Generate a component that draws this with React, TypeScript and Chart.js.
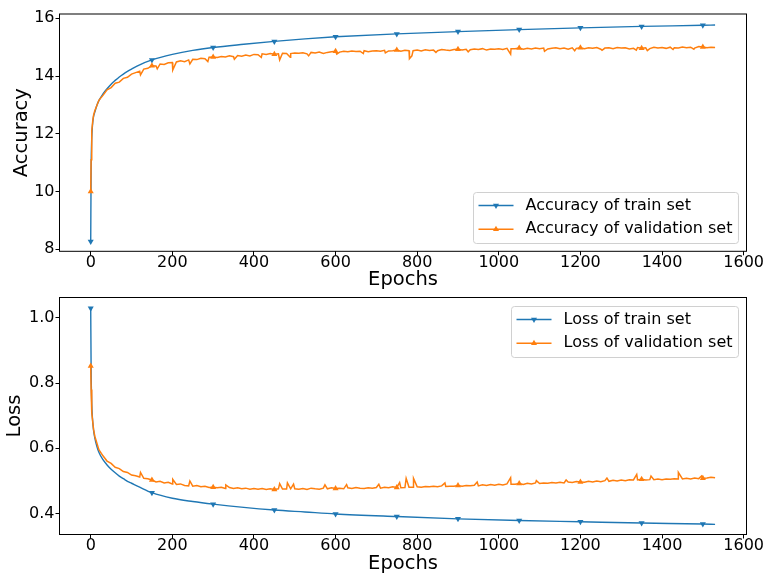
import React, { useEffect, useRef } from "react";
import { Chart, registerables } from "chart.js";

Chart.register(...registerables);
Chart.defaults.font.family = "'DejaVu Sans', sans-serif";
Chart.defaults.color = "#000";

const BLUE = "#1f77b4";
const ORANGE = "#ff7f0e";

// x grid / ticks
const epochTicks = [0, 200, 400, 600, 800, 1000, 1200, 1400, 1600];
const accuracyTicks = [8, 10, 12, 14, 16];
const lossTicks = [0.4, 0.6, 0.8, 1.0];

// train set (smooth curves)
const trainEpochs = [0, 1, 2, 3, 5, 7, 10, 15, 20, 30, 40, 50, 60, 70, 80, 90, 100, 120, 150, 200, 250, 300, 375, 450, 525, 600, 750, 900, 1050, 1200, 1350, 1500, 1530];
const trainAccuracy = [8.27, 10.8, 11.6, 12.0, 12.4, 12.6, 12.75, 12.98, 13.15, 13.38, 13.56, 13.72, 13.85, 13.97, 14.07, 14.16, 14.24, 14.39, 14.56, 14.75, 14.89, 14.99, 15.1, 15.2, 15.29, 15.36, 15.46, 15.54, 15.61, 15.67, 15.72, 15.76, 15.77];
const trainLoss = [1.029, 0.84, 0.76, 0.72, 0.68, 0.655, 0.632, 0.606, 0.588, 0.565, 0.549, 0.536, 0.525, 0.515, 0.507, 0.499, 0.493, 0.481, 0.464, 0.447, 0.437, 0.429, 0.419, 0.411, 0.405, 0.399, 0.391, 0.384, 0.379, 0.375, 0.371, 0.368, 0.367];

// validation set, read on a 10-epoch grid
const valEpochs = [0, 1, 2, 3, 5, 7, ...Array.from({ length: 153 }, (_, i) => 10 + i * 10)];
const valAccuracy = [
  10.0, 11.1, 11.75, 12.1, 12.45, 12.65,
  12.80, 13.16, 13.33, 13.52, 13.60, 13.75, 13.79, 13.92, 13.96, 14.07,
  14.12, 14.17, 14.24, 14.27, 14.36, 14.35, 14.42, 14.40, 14.46, 14.47,
  14.49, 14.53, 14.50, 14.56, 14.58, 14.57, 14.62, 14.60, 14.65, 14.66,
  14.64, 14.68, 14.66, 14.70, 14.67, 14.71, 14.69, 14.73, 14.70, 14.75,
  14.74, 14.77, 14.75, 14.78, 14.76, 14.77, 14.79, 14.78, 14.78, 14.80,
  14.79, 14.81, 14.77, 14.82, 14.80, 14.83, 14.78, 14.82, 14.84, 14.86,
  14.83, 14.86, 14.84, 14.87, 14.85, 14.86, 14.88, 14.84, 14.87, 14.88,
  14.86, 14.89, 14.87, 14.88, 14.90, 14.86, 14.89, 14.88, 14.88, 14.90,
  14.87, 14.91, 14.89, 14.90, 14.88, 14.92, 14.90, 14.89, 14.92, 14.93,
  14.90, 14.93, 14.91, 14.94, 14.92, 14.95, 14.90, 14.94, 14.93, 14.95,
  14.92, 14.96, 14.95, 14.95, 14.97, 14.93, 14.96, 14.94, 14.97, 14.95,
  14.97, 14.94, 14.96, 14.98, 14.95, 14.97, 14.93, 14.98, 14.96, 14.98,
  14.95, 14.98, 14.96, 14.99, 14.93, 14.97, 14.98, 14.95, 14.99, 14.97,
  14.98, 14.94, 14.96, 14.99, 14.96, 14.98, 14.95, 15.00, 14.97, 14.99,
  14.96, 15.00, 14.98, 14.97, 15.01, 14.98, 15.00, 14.97, 15.02, 15.01,
  14.98, 15.00, 14.99,
];
const valLoss = [
  0.852, 0.78, 0.735, 0.71, 0.68, 0.658,
  0.637, 0.596, 0.577, 0.561, 0.554, 0.542, 0.538, 0.529, 0.526, 0.518,
  0.516, 0.512, 0.508, 0.507, 0.503, 0.497, 0.499, 0.494, 0.496, 0.491,
  0.489, 0.491, 0.486, 0.485, 0.484, 0.486, 0.482, 0.484, 0.480, 0.481,
  0.479, 0.481, 0.477, 0.480, 0.477, 0.479, 0.476, 0.478, 0.475, 0.477,
  0.475, 0.477, 0.474, 0.476, 0.474, 0.476, 0.475, 0.475, 0.476, 0.476,
  0.475, 0.477, 0.474, 0.478, 0.476, 0.475, 0.478, 0.476, 0.479, 0.477,
  0.478, 0.476, 0.479, 0.477, 0.480, 0.478, 0.477, 0.479, 0.478, 0.480,
  0.478, 0.481, 0.479, 0.482, 0.480, 0.479, 0.480, 0.481, 0.481, 0.482,
  0.481, 0.483, 0.482, 0.484, 0.482, 0.485, 0.483, 0.484, 0.484, 0.486,
  0.484, 0.486, 0.485, 0.487, 0.485, 0.488, 0.486, 0.489, 0.487, 0.490,
  0.488, 0.491, 0.490, 0.490, 0.492, 0.489, 0.493, 0.491, 0.494, 0.492,
  0.494, 0.493, 0.495, 0.494, 0.496, 0.494, 0.497, 0.495, 0.498, 0.497,
  0.496, 0.499, 0.497, 0.500, 0.498, 0.501, 0.499, 0.502, 0.500, 0.503,
  0.501, 0.504, 0.503, 0.503, 0.505, 0.503, 0.504, 0.504, 0.506, 0.504,
  0.506, 0.505, 0.507, 0.506, 0.506, 0.508, 0.506, 0.509, 0.507, 0.508,
  0.509, 0.511, 0.510,
];

// single-epoch spikes of the validation curves: [epoch, value]
const valAccuracySpikes: [number, number][] = [
  [122, 14.04], [163, 14.25], [201, 14.21], [243, 14.42], [287, 14.5], [352, 14.58],
  [418, 14.65], [463, 14.56], [489, 14.65], [534, 14.7], [603, 14.76], [668, 14.78],
  [722, 14.8], [781, 14.6], [787, 14.7], [846, 14.82], [925, 14.84], [1029, 14.76],
  [1112, 14.86], [1186, 14.88], [1253, 14.89], [1337, 14.9], [1364, 14.88], [1427, 14.92], [1478, 14.93],
];
const valLossSpikes: [number, number][] = [
  [122, 0.526], [201, 0.505], [243, 0.5], [331, 0.488], [463, 0.492], [482, 0.494],
  [497, 0.49], [574, 0.488], [627, 0.489], [706, 0.49], [757, 0.495], [773, 0.508],
  [791, 0.508], [868, 0.494], [947, 0.497], [1029, 0.51], [1092, 0.501], [1165, 0.503],
  [1265, 0.509], [1338, 0.52], [1373, 0.515], [1440, 0.526], [1497, 0.515],
];

const MARK_EVERY = 150;

function toPoints(xs: number[], ys: number[], spikes: [number, number][] = []) {
  const pts = xs.map((x, i) => ({ x, y: ys[i] }));
  spikes.forEach(([x, y]) => pts.push({ x, y }));
  return pts.sort((a, b) => a.x - b.x);
}

function drawTriangle(ctx: CanvasRenderingContext2D, x: number, y: number, r: number, down: boolean) {
  const s = down ? -1 : 1;
  ctx.beginPath();
  ctx.moveTo(x, y - s * r);
  ctx.lineTo(x + 0.866 * r, y + s * 0.5 * r);
  ctx.lineTo(x - 0.866 * r, y + s * 0.5 * r);
  ctx.closePath();
  ctx.fill();
}

function framePlugin() {
  return {
    id: "frame",
    afterDatasetsDraw(chart: any) {
      const { ctx, chartArea } = chart;
      ctx.save();
      ctx.strokeStyle = "#000";
      ctx.lineWidth = 1;
      ctx.strokeRect(chartArea.left, chartArea.top, chartArea.right - chartArea.left, chartArea.bottom - chartArea.top);
      ctx.restore();
    },
  };
}

function legendPlugin(items: { label: string; color: string; down: boolean }[], place: "upper" | "lower") {
  return {
    id: "boxLegend",
    afterDraw(chart: any) {
      const { ctx, chartArea } = chart;
      ctx.save();
      ctx.font = "16px 'DejaVu Sans'";
      const tw = Math.max(...items.map((it) => ctx.measureText(it.label).width));
      const w = tw + 58;
      const h = 51;
      const x = Math.round(chartArea.right - 8.5 - w) + 0.5;
      const y = Math.round(place === "lower" ? chartArea.bottom - 8.5 - h : chartArea.top + 8.5) + 0.5;
      ctx.beginPath();
      ctx.roundRect(x, y, w, h, 3);
      ctx.fillStyle = "rgba(255,255,255,0.8)";
      ctx.fill();
      ctx.strokeStyle = "#d0d0d0";
      ctx.lineWidth = 1;
      ctx.stroke();
      items.forEach((it, i) => {
        const cy = y + 13 + i * 23.8;
        ctx.strokeStyle = it.color;
        ctx.lineWidth = 1.5;
        ctx.beginPath();
        ctx.moveTo(x + 5, cy);
        ctx.lineTo(x + 40, cy);
        ctx.stroke();
        ctx.fillStyle = it.color;
        drawTriangle(ctx, x + 22.5, cy, 3.5, it.down);
        ctx.fillStyle = "#000";
        ctx.textAlign = "left";
        ctx.textBaseline = "middle";
        ctx.fillText(it.label, x + 52, cy);
      });
      ctx.restore();
    },
  };
}

type PanelSpec = {
  train: number[];
  val: number[];
  valSpikes: [number, number][];
  yMin: number;
  yMax: number;
  yTicks: number[];
  yFmt: (v: number) => string;
  yTitle: string;
  yTitlePad: number;
  padTop: number;
  padBottom: number;
  xHeight: number;
  legendLabels: [string, string];
  legendPlace: "upper" | "lower";
};

function makeConfig(p: PanelSpec): any {
  const markerRadius = (ctx: any) => (ctx.raw && ctx.raw.x % MARK_EVERY === 0 ? 3.5 : 0);
  return {
    type: "line",
    data: {
      datasets: [
        {
          label: p.legendLabels[0],
          data: toPoints(trainEpochs, p.train),
          borderColor: BLUE,
          backgroundColor: BLUE,
          borderWidth: 1.4,
          pointStyle: "triangle",
          rotation: 180,
          pointRadius: markerRadius,
          pointBorderWidth: 0,
          cubicInterpolationMode: "monotone",
          fill: false,
          order: 2,
        },
        {
          label: p.legendLabels[1],
          data: toPoints(valEpochs, p.val, p.valSpikes),
          borderColor: ORANGE,
          backgroundColor: ORANGE,
          borderWidth: 1.5,
          pointStyle: "triangle",
          rotation: 0,
          pointRadius: markerRadius,
          pointBorderWidth: 0,
          tension: 0,
          fill: false,
          order: 1,
        },
      ],
    },
    options: {
      animation: false,
      responsive: false,
      devicePixelRatio: 1,
      events: [],
      layout: { padding: { left: 0, top: p.padTop, right: 17.5, bottom: p.padBottom } },
      plugins: { legend: { display: false }, tooltip: { enabled: false } },
      scales: {
        x: {
          type: "linear",
          min: -76.5,
          max: 1607,
          afterBuildTicks: (s: any) => {
            s.ticks = epochTicks.map((v) => ({ value: v }));
          },
          afterFit: (s: any) => {
            s.height = p.xHeight;
            s.paddingLeft = 0;
            s.paddingRight = 0;
          },
          grid: { display: true, drawOnChartArea: false, drawTicks: true, tickLength: 4, color: "#000", lineWidth: 1 },
          border: { display: false },
          ticks: { font: { size: 16, lineHeight: 1 }, color: "#000", padding: -0.5, maxRotation: 0, autoSkip: false, callback: (v: number) => String(v) },
          title: { display: true, text: "Epochs", font: { size: 19.5, lineHeight: 1 }, color: "#000", padding: 0 },
        },
        y: {
          type: "linear",
          min: p.yMin,
          max: p.yMax,
          afterBuildTicks: (s: any) => {
            s.ticks = p.yTicks.map((v) => ({ value: v }));
          },
          afterFit: (s: any) => {
            s.width = 59.5;
            s.paddingTop = 0;
            s.paddingBottom = 0;
          },
          grid: { display: true, drawOnChartArea: false, drawTicks: true, tickLength: 4, color: "#000", lineWidth: 1 },
          border: { display: false },
          ticks: { font: { size: 16, lineHeight: 1 }, color: "#000", padding: 1, autoSkip: false, callback: (v: number) => p.yFmt(v) },
          title: { display: true, text: p.yTitle, font: { size: 19.5, lineHeight: 1 }, color: "#000", padding: { top: p.yTitlePad, bottom: 0 } },
        },
      },
    },
    plugins: [
      framePlugin(),
      legendPlugin(
        [
          { label: p.legendLabels[0], color: BLUE, down: true },
          { label: p.legendLabels[1], color: ORANGE, down: false },
        ],
        p.legendPlace
      ),
    ],
  };
}

export default function App() {
  const topRef = useRef<HTMLCanvasElement>(null);
  const botRef = useRef<HTMLCanvasElement>(null);

  useEffect(() => {
    const top = new Chart(
      topRef.current as HTMLCanvasElement,
      makeConfig({
        train: trainAccuracy,
        val: valAccuracy,
        valSpikes: valAccuracySpikes,
        yMin: 7.93,
        yMax: 16.15,
        yTicks: accuracyTicks,
        yFmt: (v) => String(Math.round(v)),
        yTitle: "Accuracy",
        yTitlePad: 11.95,
        padTop: 14,
        padBottom: 284.25,
        xHeight: 38.45,
        legendLabels: ["Accuracy of train set", "Accuracy of validation set"],
        legendPlace: "lower",
      })
    );
    const bot = new Chart(
      botRef.current as HTMLCanvasElement,
      makeConfig({
        train: trainLoss,
        val: valLoss,
        valSpikes: valLossSpikes,
        yMin: 0.336,
        yMax: 1.062,
        yTicks: lossTicks,
        yFmt: (v) => v.toFixed(1),
        yTitle: "Loss",
        yTitlePad: 5.25,
        padTop: 297.5,
        padBottom: 0,
        xHeight: 39.5,
        legendLabels: ["Loss of train set", "Loss of validation set"],
        legendPlace: "upper",
      })
    );
    return () => {
      top.destroy();
      bot.destroy();
    };
  }, []);

  const cs: React.CSSProperties = { position: "absolute", left: 0, top: 0, width: 764, height: 574 };
  return (
    <div style={{ position: "absolute", left: 0, top: 0, width: 764, height: 574, background: "#fff" }}>
      <canvas ref={topRef} width={764} height={574} style={cs} />
      <canvas ref={botRef} width={764} height={574} style={cs} />
    </div>
  );
}
